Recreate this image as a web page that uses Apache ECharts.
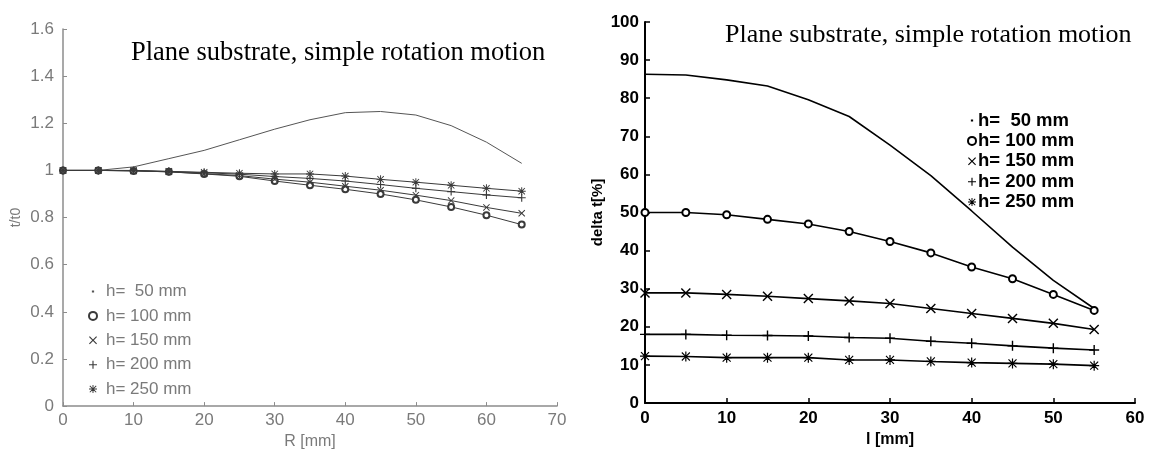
<!DOCTYPE html>
<html>
<head>
<meta charset="utf-8">
<script src="https://cdn.jsdelivr.net/npm/echarts@6/dist/echarts.min.js"></script>
<style>
  html, body { margin: 0; padding: 0; background: #fff; }
  #main { width: 1149px; height: 455px; }
</style>
</head>
<body>
<div id="main"></div>
<script>
// left plot: t/t0 against R
var xLeft = [0, 5, 10, 15, 20, 25, 30, 35, 40, 45, 50, 55, 60, 65];
var left50 = [1.0, 1.0, 1.015, 1.05, 1.085, 1.13, 1.175, 1.215, 1.245, 1.25, 1.235, 1.19, 1.12, 1.03];
var left100 = [1.0, 1.0, 0.998, 0.994, 0.985, 0.975, 0.955, 0.937, 0.92, 0.9, 0.875, 0.845, 0.81, 0.77];
var left150 = [1.0, 1.0, 0.998, 0.994, 0.986, 0.978, 0.963, 0.95, 0.933, 0.916, 0.895, 0.872, 0.843, 0.818];
var left200 = [1.0, 1.0, 0.999, 0.995, 0.99, 0.984, 0.974, 0.966, 0.955, 0.94, 0.924, 0.91, 0.896, 0.884];
var left250 = [1.0, 1.0, 1.0, 0.996, 0.992, 0.988, 0.985, 0.985, 0.976, 0.962, 0.95, 0.937, 0.924, 0.912];

// right plot: delta t against l
var xRight = [0, 5, 10, 15, 20, 25, 30, 35, 40, 45, 50, 55];
var right50 = [86.3, 86.1, 84.8, 83.2, 79.6, 75.2, 67.7, 59.7, 50.4, 40.9, 32.2, 24.8];
var right100 = [50, 50, 49.4, 48.2, 47, 45, 42.4, 39.4, 35.7, 32.6, 28.5, 24.3];
var right150 = [28.9, 28.9, 28.5, 28, 27.4, 26.8, 26.1, 24.8, 23.5, 22.2, 20.9, 19.3];
var right200 = [18, 18, 17.8, 17.7, 17.6, 17.2, 17, 16.2, 15.7, 15, 14.4, 13.9];
var right250 = [12.3, 12.2, 11.9, 11.9, 11.9, 11.3, 11.3, 10.9, 10.6, 10.4, 10.2, 9.8];

var legendLabels = ['h=  50 mm', 'h= 100 mm', 'h= 150 mm', 'h= 200 mm', 'h= 250 mm'];
var leftNames = ['a50', 'a100', 'a150', 'a200', 'a250'];
var rightNames = ['b50', 'b100', 'b150', 'b200', 'b250'];
var titleText = 'Plane substrate, simple rotation motion';

// marker shapes
var dotIcon = 'path://M0,0L0.01,0M10,10L9.99,10M3.6,3.6H6.4V6.4H3.6Z';
var plusIcon = 'path://M4.3,0H5.7V4.3H10V5.7H5.7V10H4.3V5.7H0V4.3H4.3Z';
var crossIcon = 'path://M0,1L1,0L5,4L9,0L10,1L6,5L10,9L9,10L5,6L1,10L0,9L4,5Z';
var starIcon = 'path://M4.4,0H5.6V4.4H10V5.6H5.6V10H4.4V5.6H0V4.4H4.4ZM0.6,1.4L1.4,0.6L5,4.2L8.6,0.6L9.4,1.4L5.8,5L9.4,8.6L8.6,9.4L5,5.8L1.4,9.4L0.6,8.6L4.2,5Z';
var icons = [dotIcon, 'emptyCircle', crossIcon, plusIcon, starIcon];

function pairs(xs, ys) {
  var out = [];
  for (var i = 0; i < xs.length; i++) {
    out.push([xs[i], ys[i]]);
  }
  return out;
}

function line(name, idx, xs, ys, symbol, size, color, width) {
  return {
    name: name,
    type: 'line',
    xAxisIndex: idx,
    yAxisIndex: idx,
    data: pairs(xs, ys),
    symbol: symbol,
    symbolSize: size,
    showSymbol: symbol !== 'none',
    lineStyle: { color: color, width: width },
    itemStyle: { color: color, borderWidth: 1.2 },
    z: 3
  };
}

var chart = echarts.init(document.getElementById('main'));

var leftColor = '#3a3a3a';
var rightColor = '#000';
var leftAxis = '#8c8c8c';
var leftText = '#7a7a7a';
var sans = 'Liberation Sans';

var option = {
  backgroundColor: '#fff',
  animation: false,
  title: [{
    text: titleText,
    left: 131,
    top: 40,
    padding: 0,
    textStyle: { fontFamily: 'Liberation Serif', fontSize: 26.5, fontWeight: 'normal', color: '#000' }
  }, {
    text: titleText,
    left: 725,
    top: 22,
    padding: 0,
    textStyle: { fontFamily: 'Liberation Serif', fontSize: 26, fontWeight: 'normal', color: '#000' }
  }],
  grid: [
    { left: 63, top: 29, width: 494, height: 384 },
    { left: 645, top: 22, width: 490, height: 381 }
  ],
  legend: [{
    orient: 'vertical',
    left: 88,
    top: 283,
    padding: 0,
    itemWidth: 8,
    itemHeight: 8,
    itemGap: 7.4,
    data: leftNames.map(function (n, i) {
      return { name: n, icon: icons[i] };
    }),
    formatter: function (n) { return legendLabels[leftNames.indexOf(n)]; },
    textStyle: { fontFamily: sans, fontSize: 17, lineHeight: 17, color: leftText, padding: [0, 0, 0, 4] }
  }, {
    orient: 'vertical',
    left: 967,
    top: 111,
    padding: 0,
    itemWidth: 8,
    itemHeight: 8,
    itemGap: 1.4,
    data: rightNames.map(function (n, i) {
      return { name: n, icon: icons[i] };
    }),
    formatter: function (n) { return legendLabels[rightNames.indexOf(n)]; },
    textStyle: { fontFamily: sans, fontSize: 18.5, fontWeight: 'bold', lineHeight: 18, color: '#000', padding: [0, 0, 0, -3] }
  }],
  xAxis: [{
    type: 'value',
    gridIndex: 0,
    min: 0, max: 70, interval: 10,
    name: 'R [mm]',
    nameLocation: 'middle',
    nameGap: 26,
    nameTextStyle: { fontFamily: sans, fontSize: 16, color: leftText },
    axisLine: { lineStyle: { color: leftAxis, width: 1.5 } },
    axisTick: { inside: true, length: 4, lineStyle: { color: leftAxis } },
    axisLabel: { fontFamily: sans, fontSize: 17, color: leftText, margin: 6 },
    splitLine: { show: false }
  }, {
    type: 'value',
    gridIndex: 1,
    min: 0, max: 60, interval: 10,
    name: 'l [mm]',
    nameLocation: 'middle',
    nameGap: 26,
    nameTextStyle: { fontFamily: sans, fontSize: 16, fontWeight: 'bold', color: '#000' },
    axisLine: { lineStyle: { color: '#000', width: 2 } },
    axisTick: { inside: true, length: 5, lineStyle: { color: '#000', width: 1.5 } },
    axisLabel: { fontFamily: sans, fontSize: 17, fontWeight: 'bold', color: '#000', margin: 7 },
    splitLine: { show: false }
  }],
  yAxis: [{
    type: 'value',
    gridIndex: 0,
    min: 0, max: 1.6, interval: 0.2,
    name: 't/t0',
    nameLocation: 'middle',
    nameGap: 40,
    nameTextStyle: { fontFamily: sans, fontSize: 14, color: leftText },
    axisLine: { lineStyle: { color: leftAxis, width: 1.5 } },
    axisTick: { inside: true, length: 4, lineStyle: { color: leftAxis } },
    axisLabel: { fontFamily: sans, fontSize: 17, color: leftText, margin: 9 },
    splitLine: { show: false }
  }, {
    type: 'value',
    gridIndex: 1,
    min: 0, max: 100, interval: 10,
    name: 'delta t[%]',
    nameLocation: 'middle',
    nameGap: 40,
    nameTextStyle: { fontFamily: sans, fontSize: 15, fontWeight: 'bold', color: '#000' },
    axisLine: { lineStyle: { color: '#000', width: 2 } },
    axisTick: { inside: true, length: 5, lineStyle: { color: '#000', width: 1.5 } },
    axisLabel: { fontFamily: sans, fontSize: 17, fontWeight: 'bold', color: '#000', margin: 6 },
    splitLine: { show: false }
  }],
  series: [
    line('a50', 0, xLeft, left50, 'none', 2, '#555', 1),
    line('a100', 0, xLeft, left100, 'emptyCircle', 6, leftColor, 1),
    line('a150', 0, xLeft, left150, crossIcon, 7, leftColor, 1),
    line('a200', 0, xLeft, left200, plusIcon, 8, leftColor, 1),
    line('a250', 0, xLeft, left250, starIcon, 8, leftColor, 1),
    line('b50', 1, xRight, right50, 'none', 2, rightColor, 1.6),
    line('b100', 1, xRight, right100, 'emptyCircle', 7, rightColor, 1.6),
    line('b150', 1, xRight, right150, crossIcon, 10, rightColor, 1.6),
    line('b200', 1, xRight, right200, plusIcon, 10, rightColor, 1.6),
    line('b250', 1, xRight, right250, starIcon, 10, rightColor, 1.6)
  ]
};

chart.setOption(option);
</script>
</body>
</html>
